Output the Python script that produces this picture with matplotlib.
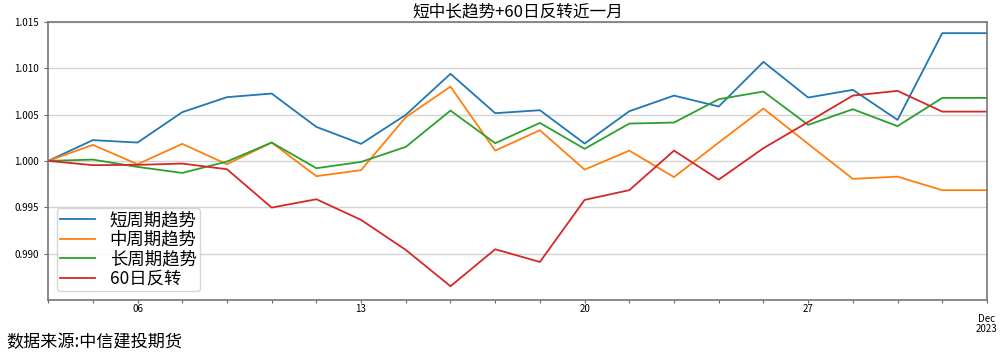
import numpy as np
import pandas as pd
import matplotlib
matplotlib.use("Agg")
import matplotlib.pyplot as plt

plt.rcParams['font.family'] = ['Noto Sans CJK SC', 'DejaVu Sans']
plt.rcParams['axes.unicode_minus'] = False

# trading days, 2023-11-02 .. 2023-12-01
dates = pd.bdate_range("2023-11-02", "2023-12-01")

short_trend = [1.0000, 1.00224, 1.00198, 1.00526, 1.00688, 1.00727, 1.00367, 1.00184,
               1.00497, 1.00940, 1.00515, 1.00547, 1.00187, 1.00536, 1.00705, 1.00587,
               1.01069, 1.00684, 1.00767, 1.00443, 1.01379, 1.01379]
mid_trend = [1.0000, 1.00173, 0.99964, 1.00184, 0.99964, 1.00198, 0.99835, 0.99900,
             1.00472, 1.00802, 1.00111, 1.00331, 0.99906, 1.00111, 0.99825, 1.00198,
             1.00565, 1.00184, 0.99806, 0.99830, 0.99684, 0.99684]
long_trend = [1.0000, 1.00014, 0.99935, 0.99870, 0.99993, 1.00198, 0.99921, 0.99989,
              1.00151, 1.00543, 1.00191, 1.00410, 1.00130, 1.00403, 1.00414, 1.00666,
              1.00749, 1.00389, 1.00558, 1.00375, 1.00680, 1.00680]
reversal_60 = [1.0000, 0.99954, 0.99957, 0.99971, 0.99910, 0.99496, 0.99586, 0.99363,
               0.99039, 0.98647, 0.99046, 0.98909, 0.99579, 0.99684, 1.00111, 0.99798,
               1.00137, 1.00420, 1.00705, 1.00756, 1.00532, 1.00532]

series = {
    '短周期趋势': short_trend,
    '中周期趋势': mid_trend,
    '长周期趋势': long_trend,
    '60日反转': reversal_60,
}

fig = plt.figure(figsize=(10.03, 3.54), dpi=100)
ax = fig.add_axes([0.048, 0.153, 0.936, 0.785])

x = np.arange(len(dates))
for name, vals in series.items():
    ax.plot(x, vals, lw=1.3, label=name)

ax.set_xlim(0, len(dates) - 1)
ax.set_ylim(0.985, 1.015)
ax.set_yticks([0.990, 0.995, 1.000, 1.005, 1.010, 1.015])
ax.set_yticklabels([f"{v:.3f}" for v in ax.get_yticks()], fontsize=7)
ax.yaxis.grid(True, color='#d4d4d4', lw=1)
ax.set_axisbelow(True)

# day labels on Mondays, month label at month start
ax.set_xticks(x)
labels = []
for d in dates:
    if d.day == 1 and d.month == 12:
        labels.append("\nDec\n2023")
    elif d.weekday() == 0:
        labels.append(f"{d.day:02d}")
    else:
        labels.append("")
ax.set_xticklabels(labels, fontsize=7, linespacing=1.0)
ax.tick_params(axis='x', length=2, pad=1, color='#666666')
ax.tick_params(axis='y', length=3, color='#666666')

for s in ax.spines.values():
    s.set_color('#777777')
    s.set_linewidth(1.2)

ax.set_title('短中长趋势+60日反转近一月', fontsize=12, pad=4)
ax.legend(loc='lower left', fontsize=12.5, handlelength=2.0,
          handletextpad=0.85, borderpad=0.2, labelspacing=0.08,
          bbox_to_anchor=(0.0, 0.0), framealpha=0.8)

fig.text(0.006, 0.02, '数据来源:中信建投期货', fontsize=12.3)

fig.savefig('out.png', dpi=100)
